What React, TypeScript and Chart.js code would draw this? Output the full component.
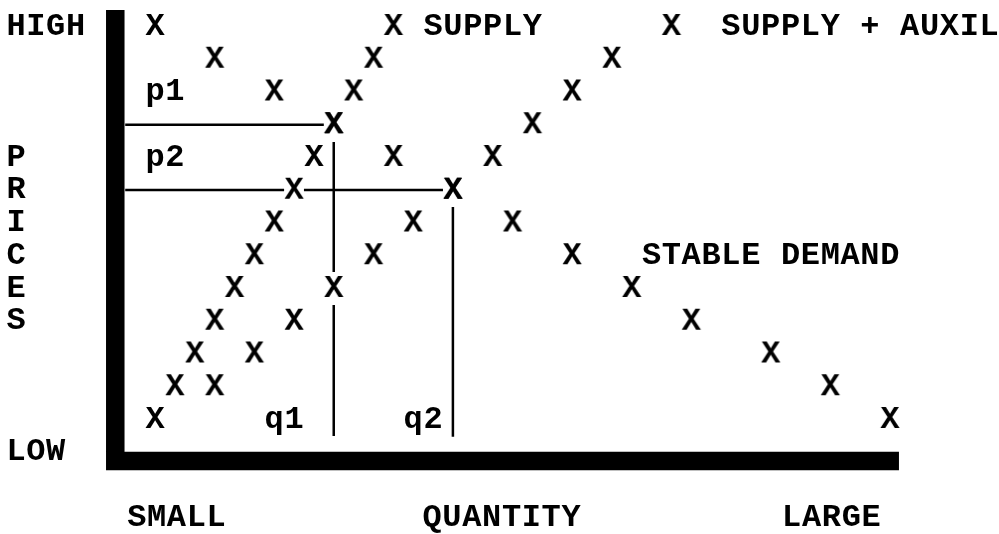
import React, { useEffect, useRef } from "react";
import { Chart, registerables } from "chart.js";

Chart.register(...registerables);

const FONT_FAMILY = '"Liberation Mono", "DejaVu Sans Mono", monospace';
const FONT_SIZE = 32;

// Price rows: 1 = HIGH (top) ... 13 = lowest typed row; quantity in typewriter columns
const supplyRows = [13, 12, 11, 10, 9, 8, 7, 6, 5, 4, 3, 2, 1];
const supplyQty = [0, 1, 2, 3, 4, 5, 6, 7, 8, 9, 10, 11, 12];
const auxilRows = [12, 11, 10, 9, 8, 7, 6, 5, 4, 3, 2, 1];
const auxilQty = [3, 5, 7, 9, 11, 13, 15, 17, 19, 21, 23, 26];
const demandRows = [1, 2, 3, 4, 5, 6, 7, 8, 9, 10, 11, 12, 13];
const demandQty = [0, 3, 6, 9, 12, 15, 18, 21, 24, 27, 31, 34, 37];

// Guide lines (p1/q1, p2/q2)
const guideQty = [[-1.5, 8.5], [-1.5, 6.5], [7.5, 14.5], [9, 9], [9, 9], [15, 15]];
const guideRows = [[4.08, 4.08], [6.07, 6.07], [6.07, 6.07], [4.6, 8.57], [9.58, 13.58], [6.59, 13.6]];

// Axis frame
const axisQty = [-2, -2, 37.46];
const axisRows = [0.57, 14.34, 14.34];

// Text labels
const labelTexts = ["HIGH", "P", "R", "I", "C", "E", "S", "LOW", "SUPPLY", "SUPPLY + AUXIL", "STABLE DEMAND", "p1", "p2", "q1", "q2", "SMALL", "QUANTITY", "LARGE"];
const labelQty = [-7, -7, -7, -7, -7, -7, -7, -7, 14, 29, 25, 0, 0, 6, 13, -0.92, 13.95, 32.06];
const labelRows = [1, 5, 6, 7, 8, 9, 10, 14, 1, 1, 8, 3, 5, 13, 13, 16, 16, 16];

const X_MIN = -155 / 19.86;
const X_MAX = (999 - 155) / 19.86;
const Y_MIN = 1 - 24 / 32.75;
const Y_MAX = 1 + (534 - 24) / 32.75;

function makeXGlyph(): HTMLCanvasElement {
  const c = document.createElement("canvas");
  c.width = 28;
  c.height = 30;
  const ctx = c.getContext("2d")!;
  ctx.font = `bold ${FONT_SIZE}px ${FONT_FAMILY}`;
  ctx.fillStyle = "#000";
  ctx.textAlign = "center";
  ctx.textBaseline = "alphabetic";
  const m = ctx.measureText("X");
  const asc = m.actualBoundingBoxAscent;
  ctx.fillText("X", 14, 15 + asc / 2);
  return c;
}

const labelPlugin = {
  id: "typedLabels",
  afterDatasetsDraw(chart: any) {
    const ctx = chart.ctx as CanvasRenderingContext2D;
    const xs = chart.scales.x;
    const ys = chart.scales.y;
    ctx.save();
    ctx.font = `bold ${FONT_SIZE}px ${FONT_FAMILY}`;
    ctx.fillStyle = "#000";
    ctx.textAlign = "center";
    ctx.textBaseline = "alphabetic";
    const asc = ctx.measureText("X").actualBoundingBoxAscent;
    labelTexts.forEach((t, k) => {
      for (let i = 0; i < t.length; i++) {
        const ch = t[i];
        if (ch === " ") continue;
        const px = xs.getPixelForValue(labelQty[k] + i);
        const py = ys.getPixelForValue(labelRows[k]) + asc / 2;
        ctx.fillText(ch, px, py);
      }
    });
    ctx.restore();
  },
};

export default function App() {
  const ref = useRef<HTMLCanvasElement | null>(null);

  useEffect(() => {
    document.body.style.margin = "0";
    document.body.style.background = "#fff";
    const glyph = makeXGlyph();
    const pts = (qs: number[], rs: number[]) => qs.map((q, i) => ({ x: q, y: rs[i] }));
    const xSet = (label: string, qs: number[], rs: number[]) => ({
      label,
      data: pts(qs, rs),
      showLine: false,
      pointStyle: glyph,
      pointRadius: 10,
      pointHoverRadius: 10,
      order: 0,
    });
    const guides = guideQty.map((qs, i) => ({
      label: "guide" + i,
      type: "line" as const,
      data: pts(qs, guideRows[i]),
      borderColor: "#000",
      borderWidth: 2.5,
      pointRadius: 0,
      borderCapStyle: "butt" as const,
      fill: false,
      order: 1,
    }));
    const chart = new Chart(ref.current!, {
      type: "scatter",
      data: {
        datasets: [
          xSet("SUPPLY", supplyQty, supplyRows),
          xSet("SUPPLY + AUXIL", auxilQty, auxilRows),
          xSet("STABLE DEMAND", demandQty, demandRows),
          ...guides,
          {
            label: "axes",
            type: "line" as const,
            data: pts(axisQty, axisRows),
            borderColor: "#000",
            borderWidth: 18.5,
            pointRadius: 0,
            borderCapStyle: "butt" as const,
            borderJoinStyle: "miter" as const,
            fill: false,
            order: 2,
          },
        ] as any,
      },
      options: {
        animation: false,
        responsive: false,
        devicePixelRatio: 1,
        layout: { padding: 0, autoPadding: false },
        events: [],
        scales: {
          x: { type: "linear", min: X_MIN, max: X_MAX, display: false },
          y: { type: "linear", min: Y_MIN, max: Y_MAX, reverse: true, display: false },
        },
        plugins: {
          legend: { display: false },
          tooltip: { enabled: false },
          title: { display: false },
        },
      } as any,
      plugins: [labelPlugin],
    });
    return () => chart.destroy();
  }, []);

  return (
    <div style={{ width: 999, height: 534, background: "#fff" }}>
      <canvas ref={ref} width={999} height={534} style={{ display: "block" }} />
    </div>
  );
}
